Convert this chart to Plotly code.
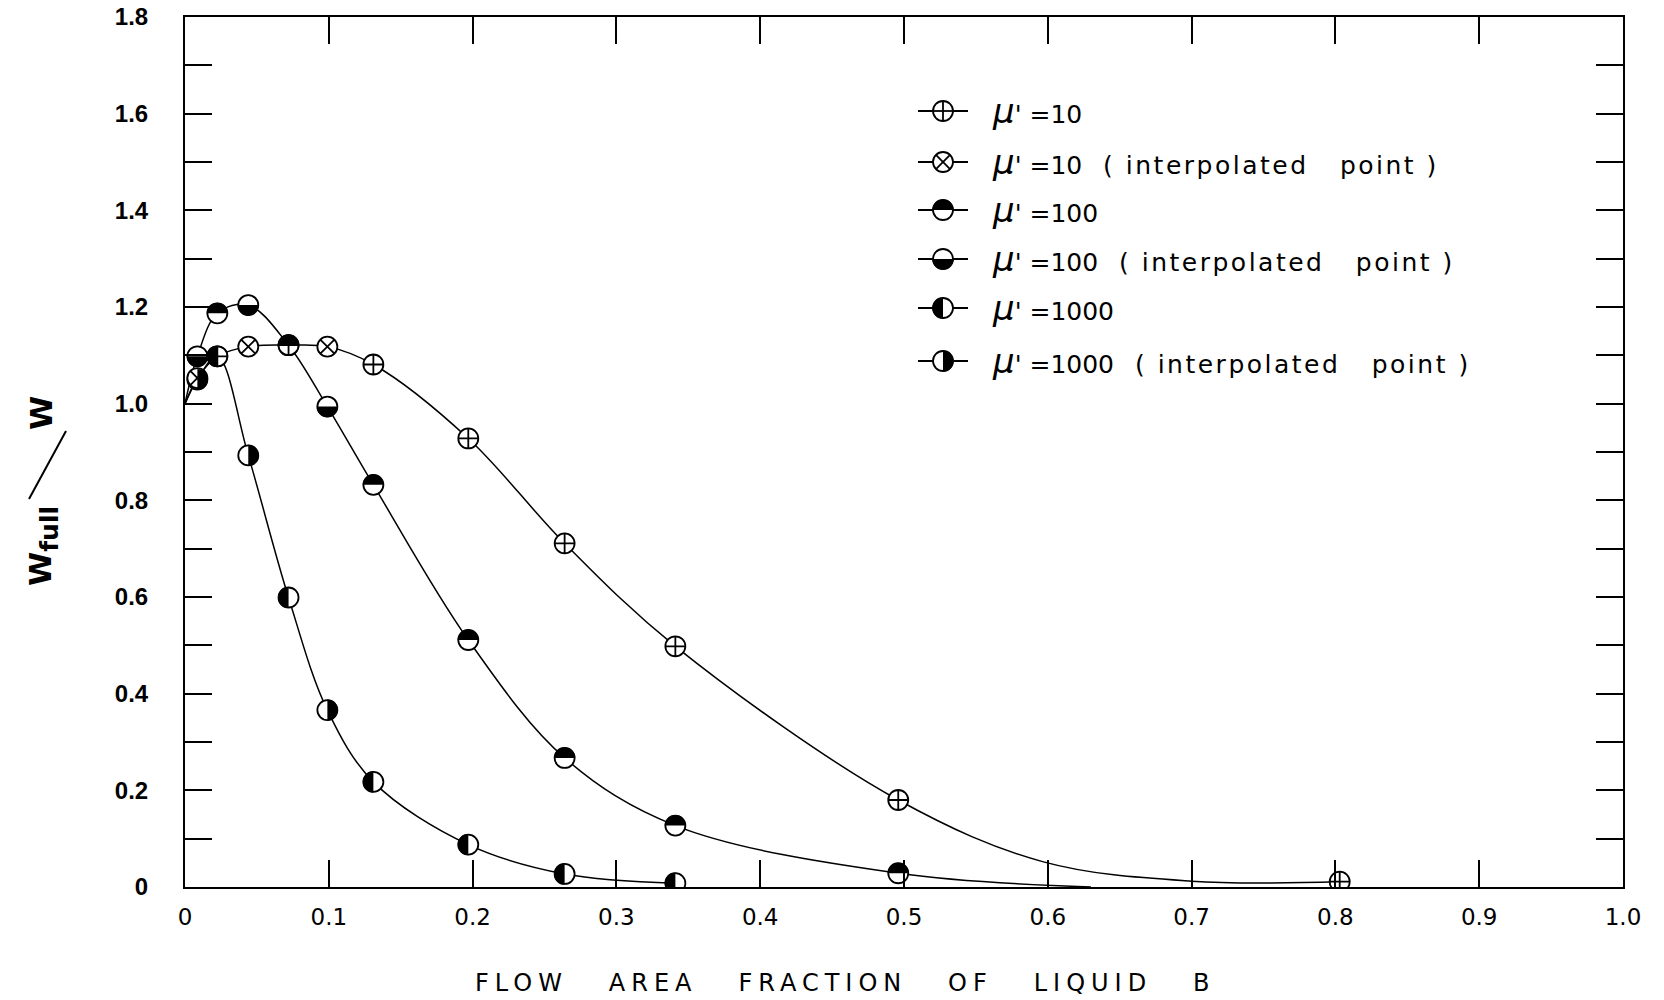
import plotly.graph_objects as go

# ---------------- data ----------------
# abscissae of the computed points and of the interpolated points
x_data = [0.0225, 0.072, 0.131, 0.197, 0.264, 0.341, 0.496, 0.803]
x_interp = [0.0086, 0.044, 0.099]

# mu' = 10
mu10_y = [1.098, 1.121, 1.081, 0.928, 0.711, 0.498, 0.180, 0.011]
mu10_interp_y = [1.053, 1.118, 1.118]
# mu' = 100
mu100_y = [1.187, 1.121, 0.832, 0.511, 0.267, 0.127, 0.0285]
mu100_interp_y = [1.098, 1.204, 0.994]
# mu' = 1000
mu1000_y = [1.098, 0.599, 0.2175, 0.0877, 0.027, 0.008]
mu1000_interp_y = [1.05, 0.893, 0.366]

# every curve starts from W_full/W = 1 at zero flow area fraction
curve_start = (0.0, 1.0)
# faired curve readings between the last points, down to the axis
mu10_tail = [(0.597, 0.052), (0.70, 0.012)]
mu100_tail = [(0.63, 0.0)]

x_ticks = [0, 0.1, 0.2, 0.3, 0.4, 0.5, 0.6, 0.7, 0.8, 0.9, 1.0]
x_tick_labels = ["0", "0.1", "0.2", "0.3", "0.4", "0.5", "0.6", "0.7", "0.8", "0.9", "1.0"]
y_ticks = [0, 0.2, 0.4, 0.6, 0.8, 1.0, 1.2, 1.4, 1.6, 1.8]
y_tick_labels = ["0", "0.2", "0.4", "0.6", "0.8", "1.0", "1.2", "1.4", "1.6", "1.8"]

legend_labels = [
    ("10", False, "plus"),
    ("10", True, "x"),
    ("100", False, "top"),
    ("100", True, "bottom"),
    ("1000", False, "left"),
    ("1000", True, "right"),
]

# ---------------- layout geometry (px) ----------------
FIG_W, FIG_H = 1664, 1000
L, R, T, B = 185, 41, 17, 113
PW, PH = FIG_W - L - R, FIG_H - T - B
FONT = "DejaVu Sans"
R_MK = 10          # marker radius in px
MK_SIZE = 2 * R_MK


def paper_x(px):
    return (px - L) / PW


def paper_y(py):
    return (FIG_H - B - py) / PH


def half_path(side, r=R_MK + 0.6):
    k = 0.5523 * r
    if side == "top":
        return f"M{-r},0 C{-r},{k} {-k},{r} 0,{r} C{k},{r} {r},{k} {r},0 Z"
    if side == "bottom":
        return f"M{-r},0 C{-r},{-k} {-k},{-r} 0,{-r} C{k},{-r} {r},{-k} {r},0 Z"
    if side == "left":
        return f"M0,{-r} C{-k},{-r} {-r},{-k} {-r},0 C{-r},{k} {-k},{r} 0,{r} Z"
    return f"M0,{-r} C{k},{-r} {r},{-k} {r},0 C{r},{k} {k},{r} 0,{r} Z"


def curve(xs, ys, tail=()):
    pts = [curve_start] + list(zip(xs, ys)) + list(tail)
    pts.sort()
    return [p[0] for p in pts], [p[1] for p in pts]


fig = go.Figure()
line_style = dict(color="black", width=1.5, shape="spline", smoothing=1.0)

cx, cy = curve(x_data + x_interp, mu10_y + mu10_interp_y, mu10_tail)
fig.add_trace(go.Scatter(x=cx, y=cy, mode="lines", line=line_style, hoverinfo="skip"))
cx, cy = curve(x_data[:len(mu100_y)] + x_interp, mu100_y + mu100_interp_y, mu100_tail)
fig.add_trace(go.Scatter(x=cx, y=cy, mode="lines", line=line_style, hoverinfo="skip"))
cx, cy = curve(x_data[:len(mu1000_y)] + x_interp, mu1000_y + mu1000_interp_y)
fig.add_trace(go.Scatter(x=cx, y=cy, mode="lines", line=line_style, hoverinfo="skip"))

# half-shaded series: white circles, the dark half is added as a shape
half_series = [
    (x_data[:len(mu100_y)], mu100_y, "top"),
    (x_interp, mu100_interp_y, "bottom"),
    (x_data[:len(mu1000_y)], mu1000_y, "left"),
    (x_interp, mu1000_interp_y, "right"),
]
mk_line = dict(color="black", width=1.8)
for xs, ys, side in half_series:
    fig.add_trace(go.Scatter(x=xs, y=ys, mode="markers",
                             marker=dict(symbol="circle", size=MK_SIZE, color="white", line=mk_line)))

fig.add_trace(go.Scatter(x=x_data, y=mu10_y, mode="markers",
                         marker=dict(symbol="circle-cross", size=MK_SIZE, color="white", line=mk_line)))
fig.add_trace(go.Scatter(x=x_interp, y=mu10_interp_y, mode="markers",
                         marker=dict(symbol="circle-x", size=MK_SIZE, color="white", line=mk_line)))

shapes = []
for xs, ys, side in half_series:
    for xv, yv in zip(xs, ys):
        shapes.append(dict(type="path", xref="x", yref="y", xsizemode="pixel", ysizemode="pixel",
                           xanchor=xv, yanchor=yv, path=half_path(side),
                           fillcolor="black", line=dict(width=0), layer="above"))

# ---------------- legend block ----------------
leg_rows = [111, 162, 210, 259, 308, 361]
leg_line = (918, 968)
leg_mark = 943
leg_text = 990
annotations = []
for (val, interp, kind), row in zip(legend_labels, leg_rows):
    yp = paper_y(row)
    shapes.append(dict(type="line", xref="paper", yref="paper",
                       x0=paper_x(leg_line[0]), x1=paper_x(leg_line[1]), y0=yp, y1=yp,
                       line=dict(color="black", width=1.8)))
    base = dict(xref="paper", yref="paper", xsizemode="pixel", ysizemode="pixel",
                xanchor=paper_x(leg_mark), yanchor=yp)
    pen = dict(color="black", width=1.8)
    shapes.append(dict(type="circle", x0=-R_MK, x1=R_MK, y0=-R_MK, y1=R_MK,
                       fillcolor="white", line=pen, **base))
    if kind == "plus":
        shapes.append(dict(type="line", x0=-R_MK, x1=R_MK, y0=0, y1=0, line=pen, **base))
        shapes.append(dict(type="line", x0=0, x1=0, y0=-R_MK, y1=R_MK, line=pen, **base))
    elif kind == "x":
        d = R_MK * 0.707
        shapes.append(dict(type="line", x0=-d, x1=d, y0=-d, y1=d, line=pen, **base))
        shapes.append(dict(type="line", x0=-d, x1=d, y0=d, y1=-d, line=pen, **base))
    else:
        shapes.append(dict(type="path", path=half_path(kind), fillcolor="black", line=dict(width=0), **base))
    txt = ("<span style='font-size:34px'><i>μ</i></span>' =" + val)
    if interp:
        txt += ("<span style='letter-spacing:2.5px'>&nbsp;&nbsp;( interpolated &nbsp; point )</span>")
    annotations.append(dict(xref="paper", yref="paper", x=paper_x(leg_text), y=yp,
                            xanchor="left", yanchor="middle", showarrow=False, text=txt,
                            font=dict(family=FONT, size=25, color="black")))

# ---------------- axis titles ----------------
annotations.append(dict(xref="paper", yref="paper", x=paper_x(845), y=paper_y(983),
                        xanchor="center", yanchor="middle", showarrow=False,
                        text="<span style='letter-spacing:6px'>FLOW &nbsp; AREA &nbsp; FRACTION &nbsp; OF &nbsp; LIQUID &nbsp; B</span>",
                        font=dict(family=FONT, size=24, color="black")))
annotations.append(dict(xref="paper", yref="paper", x=paper_x(43), y=paper_y(546),
                        xanchor="center", yanchor="middle", showarrow=False, textangle=-90,
                        text="W<sub><span style='font-size:25px'>full</span></sub>",
                        font=dict(family=FONT, size=31, color="black", weight="bold")))
annotations.append(dict(xref="paper", yref="paper", x=paper_x(41), y=paper_y(413),
                        xanchor="center", yanchor="middle", showarrow=False, textangle=-90,
                        text="W", font=dict(family=FONT, size=31, color="black", weight="bold")))
# the fraction stroke between numerator and denominator
shapes.append(dict(type="line", xref="paper", yref="paper",
                   x0=paper_x(29), y0=paper_y(499), x1=paper_x(66), y1=paper_y(431),
                   line=dict(color="black", width=2)))

tick_style = dict(ticks="inside", ticklen=27, tickwidth=1.5, tickcolor="black")
axis_common = dict(showline=True, linewidth=2, linecolor="black", mirror="ticks",
                   showgrid=False, zeroline=False, automargin=False, **tick_style)

fig.update_layout(
    width=FIG_W, height=FIG_H,
    margin=dict(l=L, r=R, t=T, b=B, pad=0),
    paper_bgcolor="white", plot_bgcolor="white",
    showlegend=False,
    xaxis=dict(range=[0, 1.0], tickmode="array", tickvals=x_ticks, ticktext=x_tick_labels,
               ticklabelstandoff=8,
               tickfont=dict(family=FONT, size=23, color="black"), **axis_common),
    yaxis=dict(range=[0, 1.8], tickmode="array", tickvals=y_ticks, ticktext=y_tick_labels,
               ticklabelstandoff=30,
               minor=dict(dtick=0.1, tick0=0, showgrid=False, **tick_style),
               tickfont=dict(family="Liberation Sans", size=24, color="black", weight="bold"),
               **axis_common),
    shapes=shapes,
    annotations=annotations,
)

fig.write_html("out.html")
